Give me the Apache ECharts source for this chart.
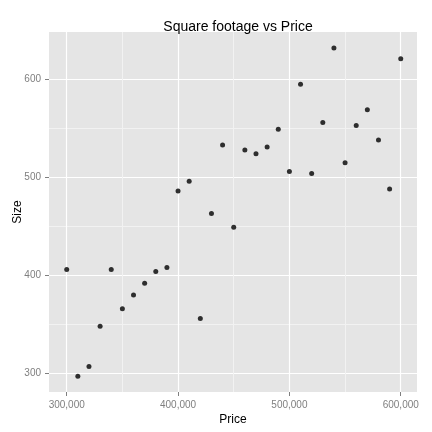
<!DOCTYPE html>
<html>
<head>
<meta charset="utf-8">
<script src="https://cdn.jsdelivr.net/npm/echarts@6/dist/echarts.min.js"></script>
<style>
  html, body { margin: 0; padding: 0; background: #fff; }
  #chart { width: 432px; height: 432px; }
</style>
</head>
<body>
<div id="chart"></div>
<script>
// data
var price = [300000, 310000, 320000, 330000, 340000, 350000, 360000, 370000, 380000, 390000,
             400000, 410000, 420000, 430000, 440000, 450000, 460000, 470000, 480000, 490000,
             500000, 510000, 520000, 530000, 540000, 550000, 560000, 570000, 580000, 590000, 600000];
var size = [406, 297, 307, 348, 406, 366, 380, 392, 404, 408,
            486, 496, 356, 463, 533, 449, 528, 524, 531, 549,
            506, 595, 504, 556, 632, 515, 553, 569, 538, 488, 621];
var priceTicks = [300000, 400000, 500000, 600000];
var priceMinor = [350000, 450000, 550000];
var sizeTicks = [300, 400, 500, 600];
var sizeMinor = [350, 450, 550];

var points = price.map(function (p, i) { return [p, size[i]]; });

var chart = echarts.init(document.getElementById("chart"));
var grey = "#7f7f7f";
var font = "Liberation Sans, Arial, sans-serif";
var xRange = { min: 284100, max: 614600 };
var yRange = { min: 281, max: 648.3 };

// hidden axis that only carries the thin minor grid lines
function minorAxis(range, values, pos) {
  return {
    type: "value", position: pos, min: range.min, max: range.max,
    axisLine: { show: false },
    axisTick: { show: false, customValues: values },
    axisLabel: { show: false, customValues: values },
    splitLine: { show: true, lineStyle: { color: "#f2f2f2", width: 1 } }
  };
}

var option = {
  animation: false,
  title: {
    text: "Square footage vs Price",
    left: 233,
    top: 15,
    textAlign: "center",
    textStyle: { fontFamily: font, fontSize: 14, fontWeight: "normal", color: "#000" }
  },
  grid: {
    left: 49, right: 15, top: 32, bottom: 40,
    outerBoundsMode: "none",
    show: true, backgroundColor: "#e5e5e5", borderWidth: 0
  },
  xAxis: [minorAxis(xRange, priceMinor, "bottom"), {
    type: "value", position: "bottom",
    min: xRange.min, max: xRange.max,
    name: "Price", nameLocation: "middle", nameGap: 22, nameMoveOverlap: false,
    nameTextStyle: { fontFamily: font, fontSize: 12, color: "#000" },
    axisLine: { show: false },
    axisTick: { show: true, length: 4, lineStyle: { color: grey },
      customValues: priceTicks },
    axisLabel: { color: grey, fontFamily: font, fontSize: 10, margin: 8,
      customValues: priceTicks,
      formatter: function (v) { return v.toLocaleString("en-US"); } },
    splitLine: { show: true, lineStyle: { color: "#fff", width: 1.2 } }
  }],
  yAxis: [minorAxis(yRange, sizeMinor, "left"), {
    type: "value", position: "left",
    min: yRange.min, max: yRange.max,
    name: "Size", nameLocation: "middle", nameGap: 25, nameMoveOverlap: false,
    nameTextStyle: { fontFamily: font, fontSize: 12, color: "#000" },
    axisLine: { show: false },
    axisTick: { show: true, length: 4, lineStyle: { color: grey },
      customValues: sizeTicks },
    axisLabel: { color: grey, fontFamily: font, fontSize: 10, margin: 8,
      customValues: sizeTicks },
    splitLine: { show: true, lineStyle: { color: "#fff", width: 1.2 } }
  }],
  series: [{
    type: "scatter",
    xAxisIndex: 1,
    yAxisIndex: 1,
    data: points,
    symbol: "circle",
    symbolSize: 5,
    itemStyle: { color: "#000" }
  }]
};
chart.setOption(option);
</script>
</body>
</html>
